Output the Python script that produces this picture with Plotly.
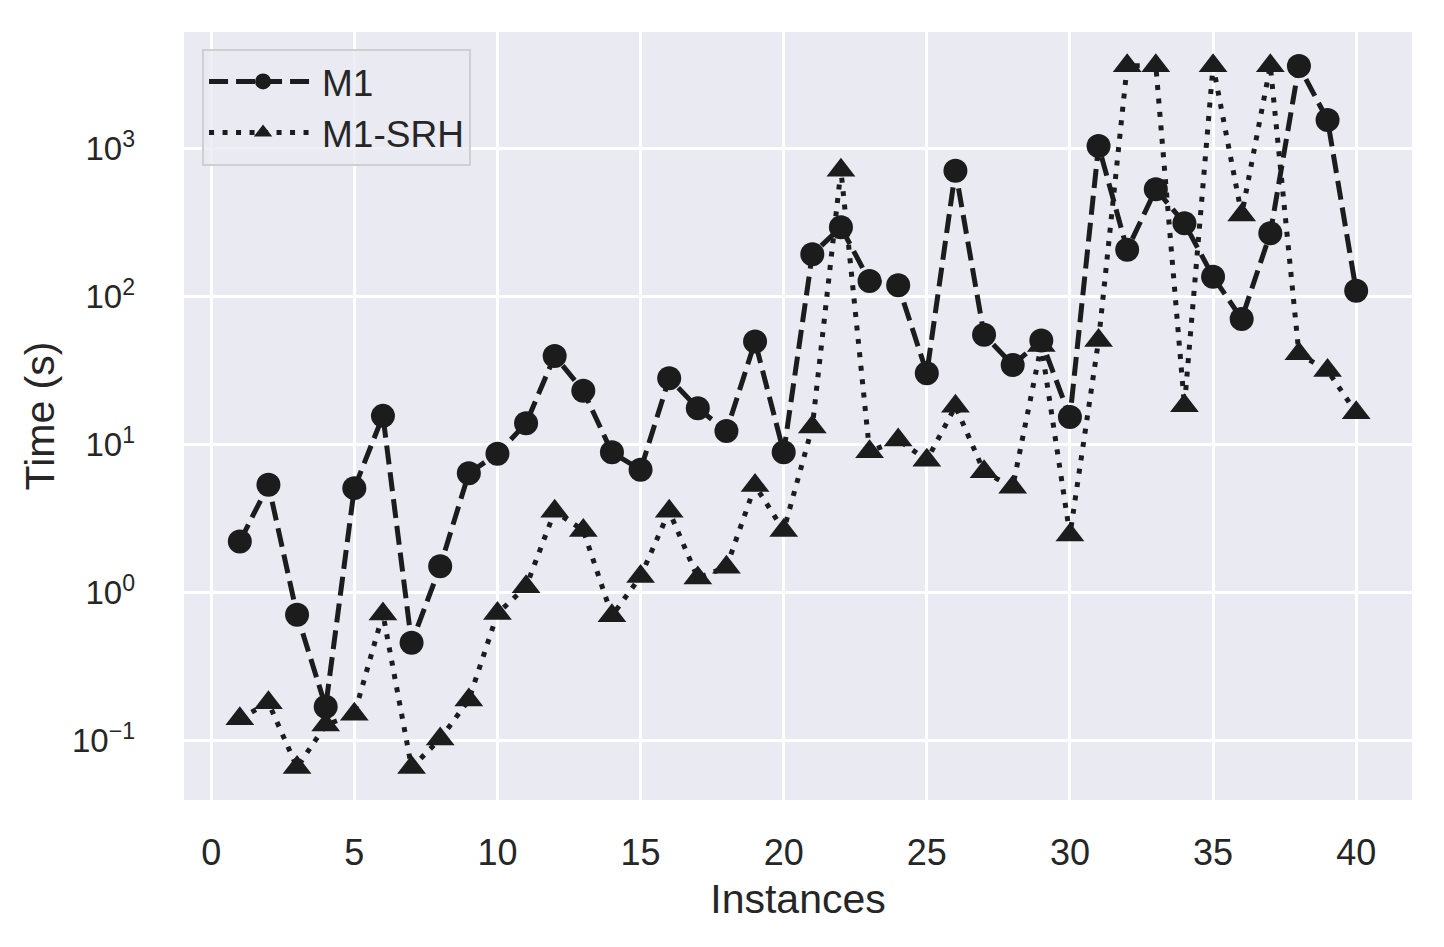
import plotly.graph_objects as go

instances = list(range(1, 41))

m1 = [2.22, 5.37, 0.71, 0.17, 5.1, 15.7, 0.46, 1.51, 6.44, 8.7,
      14.0, 39.9, 23.2, 8.9, 6.78, 28.2, 17.7, 12.4, 49.9, 8.9,
      194, 296, 128, 120, 30.5, 713, 55.4, 34.7, 50.7, 15.4,
      1047, 208, 534, 315, 137, 71, 269, 3637, 1570, 110]

m1_srh = [0.141, 0.181, 0.066, 0.128, 0.151, 0.72, 0.066, 0.103, 0.189, 0.725,
          1.1, 3.56, 2.64, 0.70, 1.29, 3.56, 1.26, 1.49, 5.31, 2.64,
          13.2, 718, 9.0, 10.8, 7.88, 18.2, 6.57, 5.18, 47, 2.46,
          50.7, 3653, 3653, 18.4, 3653, 358, 3653, 41.2, 31.8, 16.5]

x_ticks = [0, 5, 10, 15, 20, 25, 30, 35, 40]
y_tickvals = [0.1, 1, 10, 100, 1000]
y_ticktext = ["10<sup>\u22121</sup>", "10<sup>0</sup>", "10<sup>1</sup>",
              "10<sup>2</sup>", "10<sup>3</sup>"]

INK = "#1c1c1c"
TXT = "#262626"
FONT = "Liberation Sans, Arial, sans-serif"

fig = go.Figure()
fig.add_trace(go.Scatter(
    x=instances, y=m1, name="M1", mode="lines+markers",
    line=dict(color=INK, width=5, dash="19px,8px"),
    marker=dict(symbol="circle", size=24, color=INK),
))
fig.add_trace(go.Scatter(
    x=instances, y=m1_srh, name="M1-SRH", mode="lines+markers",
    line=dict(color=INK, width=5, dash="5px,8.5px"),
    marker=dict(symbol="triangle-up", size=25, color=INK),
))

fig.update_layout(
    width=1444, height=947,
    margin=dict(l=184, r=32, t=32, b=147),
    paper_bgcolor="white",
    plot_bgcolor="#EAEAF2",
    font=dict(family=FONT, size=36, color=TXT),
    legend=dict(
        x=0.0147, y=0.978, xanchor="left", yanchor="top",
        bgcolor="rgba(234,234,242,0.8)",
        bordercolor="#cfcfcf", borderwidth=2,
        font=dict(family=FONT, size=37, color=TXT),
        itemwidth=108,
    ),
    showlegend=True,
)
fig.update_xaxes(
    range=[-0.95, 41.95],
    tickvals=x_ticks,
    ticktext=[str(v) for v in x_ticks],
    showgrid=True, gridcolor="white", gridwidth=2.5,
    zeroline=False, showline=False, ticks="",
    tickfont=dict(family=FONT, size=36, color=TXT),
    ticklabelstandoff=28,
    title=dict(text="Instances", font=dict(family=FONT, size=41, color=TXT), standoff=12),
)
fig.update_yaxes(
    type="log",
    range=[-1.40, 3.79],
    tickvals=y_tickvals,
    ticktext=y_ticktext,
    showgrid=True, gridcolor="white", gridwidth=2.5,
    zeroline=False, showline=False, ticks="",
    tickfont=dict(family=FONT, size=33, color=TXT),
    ticklabelstandoff=48,
    title=dict(text="Time (s)", font=dict(family=FONT, size=41, color=TXT), standoff=4),
)

fig.write_html("out.html")
